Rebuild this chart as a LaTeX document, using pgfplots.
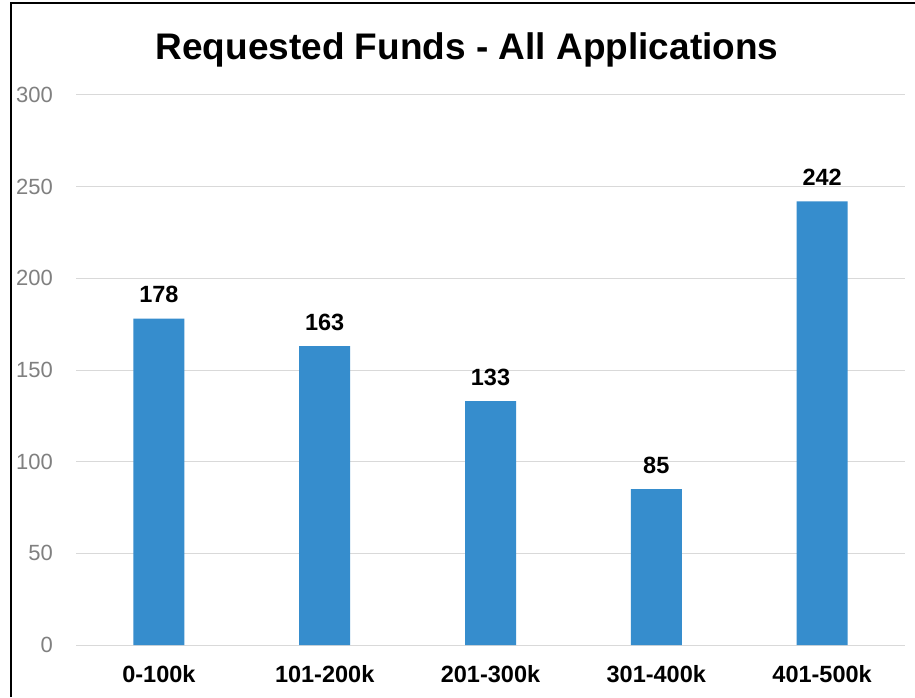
\documentclass[border=0pt]{standalone}
\usepackage{pgfplots}
\pgfplotsset{compat=1.18}
\usepackage{fontspec}
\setmainfont{Liberation Sans}
\definecolor{barc}{RGB}{54,141,205}
\definecolor{gridc}{RGB}{217,217,217}
\definecolor{tickc}{RGB}{128,128,128}
\begin{document}
\begin{tikzpicture}
\useasboundingbox (0,0) rectangle (915pt,697pt);
\fill[white] (0,0) rectangle (915pt,697pt);
\begin{axis}[
  at={(76pt,52pt)}, anchor=south west,
  scale only axis, width=829pt, height=550pt,
  xmin=-0.5, xmax=4.5, ymin=0, ymax=300,
  ytick={0,50,100,150,200,250,300},
  xtick=data,
  xticklabels={0-100k,101-200k,201-300k,301-400k,401-500k},
  ymajorgrids, major grid style={draw=gridc, line width=1pt},
  axis line style={draw=none},
  major tick length=0pt,
  /pgf/number format/assume math mode=true,
  yticklabel style={font=\fontsize{22}{26}\selectfont, text=tickc, anchor=east, inner sep=0pt, xshift=-23pt},
  xticklabel style={font=\fontsize{23.5}{28}\selectfont\bfseries, anchor=base, inner sep=0pt, yshift=-37pt},
  ybar, bar width=51pt,
  nodes near coords,
  every node near coord/.append style={font=\fontsize{23.5}{28}\selectfont\bfseries, anchor=base, inner sep=0pt, yshift=16pt, text=black},
  clip=false,
]
\addplot[fill=barc, draw=none] coordinates {(0,178) (1,163) (2,133) (3,85) (4,242)};
\end{axis}
\node[anchor=base, font=\fontsize{37}{44}\selectfont\bfseries] at (467pt,637pt) {Requested Funds - All Applications};
\draw[line width=2pt, black] (11pt,0) -- (11pt,694pt) -- (915pt,694pt);
\end{tikzpicture}
\end{document}
